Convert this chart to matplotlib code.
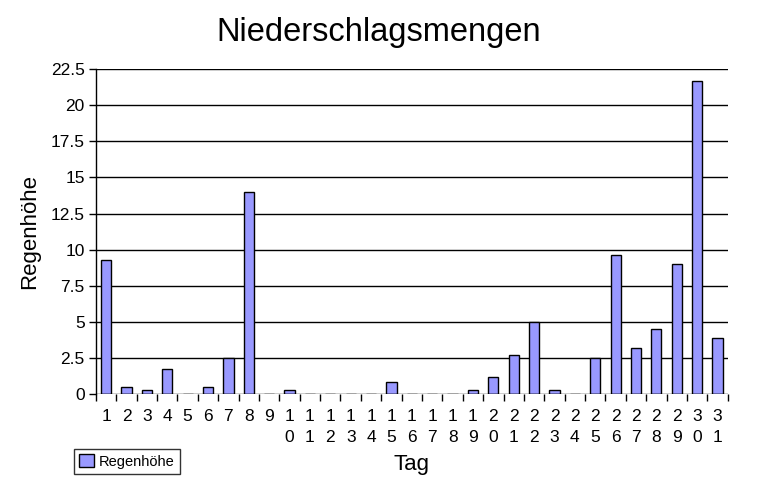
import numpy as np
import matplotlib.pyplot as plt

plt.rcParams['font.family'] = ['Liberation Sans', 'DejaVu Sans']

days = [str(d) for d in range(1, 32)]
rain = [9.3, 0.5, 0.3, 1.7, 0.0, 0.5, 2.5, 14.0, 0.0, 0.3,
        0.0, 0.0, 0.0, 0.0, 0.8, 0.0, 0.0, 0.0, 0.3, 1.2,
        2.7, 5.0, 0.3, 0.0, 2.5, 9.6, 3.2, 4.5, 9.0, 21.7,
        3.9]
yticks = [0, 2.5, 5, 7.5, 10, 12.5, 15, 17.5, 20, 22.5]
ytick_labels = ['0', '2.5', '5', '7.5', '10', '12.5', '15', '17.5', '20', '22.5']

fig = plt.figure(figsize=(7.58, 4.94), dpi=100)
ax = fig.add_axes([0.1266, 0.2024, 0.8334, 0.6576])

x = np.arange(len(days))
bars = ax.bar(x, rain, width=0.5, color='#9999FF', edgecolor='black',
              linewidth=1, label='Regenhöhe', zorder=3)

ax.set_xlim(-0.5, len(days) - 0.5)
ax.set_ylim(0, 22.5)
ax.set_yticks(yticks)
ax.set_yticklabels(ytick_labels, fontsize=12.5)
for y in yticks:
    ax.axhline(y, color='black', linewidth=1, zorder=4 if y == 0 else 1)

# category labels: two-digit days stacked vertically
ax.set_xticks(x)
ax.set_xticklabels(['\n'.join(d) for d in days], fontsize=12.5, linespacing=1.45,
                   va='top')
ax.tick_params(axis='x', length=0, pad=11)
ax.set_xticks(np.arange(-0.5, len(days)), minor=True)
ax.tick_params(axis='x', which='minor', length=5, width=1, direction='out')
ax.tick_params(axis='y', length=5, width=1, direction='out', pad=3)

for s in ['top', 'right', 'bottom']:
    ax.spines[s].set_visible(False)
ax.spines['left'].set_linewidth(1)

ax.set_ylabel('Regenhöhe', fontsize=16, labelpad=8)
ax.set_xlabel('Tag', fontsize=16, labelpad=7)
fig.suptitle('Niederschlagsmengen', fontsize=23.5, y=0.965)

leg = fig.legend(handles=[bars], labels=['Regenhöhe'], loc='lower left',
                 bbox_to_anchor=(74 / 758, 1 - 474 / 494), fontsize=10.5,
                 frameon=True, fancybox=False, edgecolor='black',
                 handlelength=1, handleheight=1, handletextpad=0.35,
                 borderpad=0.35, borderaxespad=0)
leg.get_frame().set_linewidth(1)

fig.savefig('out.png', dpi=100)
